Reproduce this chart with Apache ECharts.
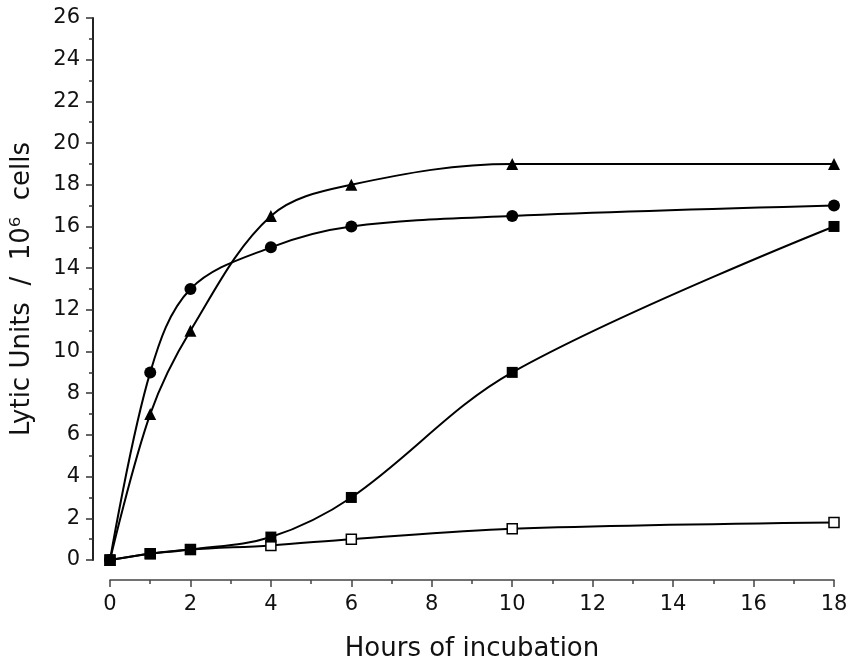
<!DOCTYPE html>
<html>
<head>
<meta charset="utf-8">
<script src="https://cdn.jsdelivr.net/npm/echarts@6/dist/echarts.min.js"></script>
<style>
  html, body { margin: 0; padding: 0; background: #fff; }
  #chart { width: 852px; height: 661px; }
</style>
</head>
<body>
<div id="chart"></div>
<script>
// hours of incubation
var hours = [0, 1, 2, 4, 6, 10, 18];
// lytic units / 10^6 cells
var triangleVals = [0, 7, 11, 16.5, 18, 19, 19];
var circleVals = [0, 9, 13, 15, 16, 16.5, 17];
var filledSquareVals = [0, 0.3, 0.5, 1.1, 3, 9, 16];
var openSquareVals = [0, 0.3, 0.5, 0.7, 1, 1.5, 1.8];

var font = "DejaVu Sans";

function pairs(vals) {
  return hours.map(function (h, i) { return [h, vals[i]]; });
}

function lineSeries(name, vals, symbol, size, fill) {
  return {
    name: name,
    type: "line",
    smooth: 0.35,
    data: pairs(vals),
    symbol: symbol,
    symbolSize: size,
    showAllSymbol: true,
    lineStyle: { color: "#000", width: 2 },
    itemStyle: { color: fill, borderColor: "#000", borderWidth: fill === "#fff" ? 1.5 : 0 },
    emphasis: { disabled: true },
    z: 3
  };
}

var chartDom = document.getElementById("chart");
var myChart = echarts.init(chartDom);
var option = {
  animation: false,
  backgroundColor: "#fff",
  grid: { left: 110, right: 18, top: 18, bottom: 101, outerBoundsMode: "none", containLabel: false },
  xAxis: {
    type: "value",
    min: 0,
    max: 18,
    interval: 2,
    offset: 20,
    name: "Hours of incubation",
    nameLocation: "middle",
    nameGap: 56,
    nameTextStyle: { fontFamily: font, fontSize: 26, color: "#111" },
    axisLine: { show: true, onZero: false, lineStyle: { color: "#444", width: 1.5 } },
    axisTick: { show: true, inside: false, length: 7, lineStyle: { color: "#444", width: 1.5 } },
    minorTick: { show: true, splitNumber: 2, length: 4, lineStyle: { color: "#444", width: 1.5 } },
    axisLabel: { fontFamily: font, fontSize: 21, color: "#111", margin: 14 },
    splitLine: { show: false }
  },
  yAxis: {
    type: "value",
    min: 0,
    max: 26,
    interval: 2,
    offset: 17,
    name: "Lytic Units  /  10\u2076  cells",
    nameLocation: "middle",
    nameGap: 58,
    nameTextStyle: { fontFamily: font, fontSize: 26, color: "#111" },
    axisLine: { show: true, onZero: false, lineStyle: { color: "#222", width: 2 } },
    axisTick: { show: true, inside: false, length: 7, lineStyle: { color: "#333", width: 1.5 } },
    minorTick: { show: true, splitNumber: 2, length: 4, lineStyle: { color: "#333", width: 1.5 } },
    axisLabel: { fontFamily: font, fontSize: 21, color: "#111", margin: 13 },
    splitLine: { show: false }
  },
  series: [
    lineSeries("open square", openSquareVals, "rect", 10, "#fff"),
    lineSeries("filled square", filledSquareVals, "rect", 11, "#000"),
    lineSeries("circle", circleVals, "circle", 12, "#000"),
    lineSeries("triangle", triangleVals, "triangle", 12, "#000")
  ]
};
option && myChart.setOption(option);
</script>
</body>
</html>
